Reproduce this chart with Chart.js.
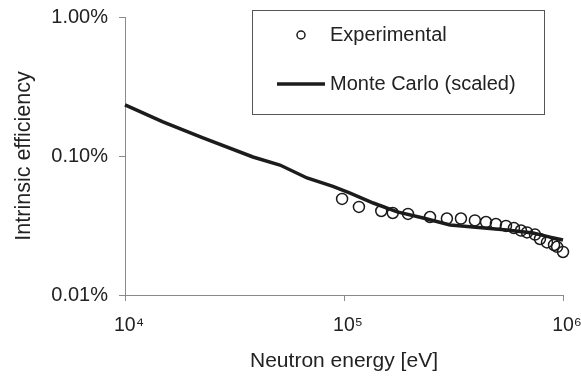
<!DOCTYPE html>
<html>
<head>
<meta charset="utf-8">
<script src="https://cdn.jsdelivr.net/npm/chart.js"></script>
<style>
  html, body { margin: 0; padding: 0; background: #fff; }
  #wrap { width: 581px; height: 378px; }
</style>
</head>
<body>
<div id="wrap"><canvas id="eff-chart"></canvas></div>
<script>
// measured points (energy in eV, efficiency in %)
const expEnergy = [9.8e4, 1.17e5, 1.48e5, 1.67e5, 1.96e5, 2.47e5, 2.95e5, 3.42e5, 3.96e5, 4.45e5,
                   4.94e5, 5.49e5, 5.97e5, 6.43e5, 6.85e5, 7.45e5, 7.85e5, 8.45e5, 9.1e5, 9.4e5, 1.0e6];
const expEff = [0.0491, 0.0430, 0.0402, 0.0389, 0.0383, 0.0364, 0.0355, 0.0355, 0.0344, 0.0335,
                0.0324, 0.0314, 0.0303, 0.0291, 0.0282, 0.0272, 0.0253, 0.0239, 0.0229, 0.0222, 0.0204];

// simulated curve, scaled
const mcEnergy = [1e4, 1.49e4, 2.27e4, 3.84e4, 5.1e4, 6.78e4, 8.9e4, 1.06e5, 1.36e5, 1.75e5,
                  2.3e5, 3.05e5, 3.88e5, 5.55e5, 7.3e5, 8.73e5, 1e6];
const mcEff = [0.233, 0.176, 0.135, 0.0984, 0.0861, 0.0695, 0.0605, 0.0542, 0.0459, 0.0396,
               0.0358, 0.0319, 0.0309, 0.0294, 0.0279, 0.0261, 0.0249];

const seriesNames = ["Experimental", "Monte Carlo (scaled)"];
const xTicks = [1e4, 1e5, 1e6];
const yTicks = [0.01, 0.1, 1];

const pairs = (xs, ys) => xs.map((x, i) => ({ x: x, y: ys[i] }));
const supDigits = { 4: "\u2074", 5: "\u2075", 6: "\u2076" };
const ink = "#222";
const axisGrey = "#8a8a8a";
const fontFamily = "'Liberation Sans', Arial, sans-serif";

// boxed legend in the upper right corner of the plot
const boxLegend = {
  id: "boxLegend",
  afterDraw(chart) {
    const ctx = chart.ctx;
    const ds = chart.data.datasets;
    ctx.save();
    ctx.strokeStyle = "#555";
    ctx.lineWidth = 1;
    ctx.strokeRect(252.5, 10.5, 292, 104);

    ctx.font = "20px " + fontFamily;
    ctx.fillStyle = ink;
    ctx.textBaseline = "middle";

    // marker entry
    ctx.beginPath();
    ctx.arc(301, 35, 4, 0, Math.PI * 2);
    ctx.strokeStyle = ds[0].borderColor;
    ctx.lineWidth = 1.5;
    ctx.stroke();
    ctx.fillText(ds[0].label, 330, 35);

    // line entry
    ctx.beginPath();
    ctx.moveTo(277, 84);
    ctx.lineTo(325, 84);
    ctx.strokeStyle = ds[1].borderColor;
    ctx.lineWidth = ds[1].borderWidth;
    ctx.stroke();
    ctx.fillText(ds[1].label, 330, 84);
    ctx.restore();
  }
};

new Chart(document.getElementById("eff-chart"), {
  type: "scatter",
  data: {
    datasets: [
      {
        label: seriesNames[0],
        data: pairs(expEnergy, expEff),
        showLine: false,
        clip: false,
        pointStyle: "circle",
        pointRadius: 5.5,
        pointBorderWidth: 1.5,
        borderColor: "#1a1a1a",
        backgroundColor: "rgba(0,0,0,0)"
      },
      {
        label: seriesNames[1],
        data: pairs(mcEnergy, mcEff),
        showLine: true,
        clip: false,
        pointRadius: 0,
        borderWidth: 3.5,
        borderColor: "#1c1c1c",
        tension: 0
      }
    ]
  },
  options: {
    responsive: true,
    maintainAspectRatio: false,
    devicePixelRatio: 1,
    animation: false,
    layout: { padding: { top: 17, right: 18, left: 0, bottom: 0 } },
    plugins: {
      legend: { display: false },
      tooltip: { enabled: false }
    },
    scales: {
      x: {
        type: "logarithmic",
        min: 1e4,
        max: 1e6,
        afterBuildTicks: s => { s.ticks = xTicks.map(v => ({ value: v })); },
        afterFit: s => { s.height = 83; s.paddingLeft = 0; s.paddingRight = 0; },
        grid: { drawOnChartArea: false, drawTicks: true, tickLength: 6, color: axisGrey },
        border: { color: axisGrey, width: 1 },
        ticks: {
          autoSkip: false,
          maxRotation: 0,
          padding: 13,
          labelOffset: 4,
          color: ink,
          font: { size: 19.5, family: fontFamily },
          callback: v => "10" + supDigits[Math.round(Math.log10(v))]
        },
        title: {
          display: true,
          text: "Neutron energy [eV]",
          color: ink,
          font: { size: 21, family: fontFamily },
          padding: { top: 0, bottom: 4 }
        }
      },
      y: {
        type: "logarithmic",
        min: 0.01,
        max: 1,
        afterBuildTicks: s => { s.ticks = yTicks.map(v => ({ value: v })); },
        afterFit: s => { s.width = 125; s.paddingTop = 0; s.paddingBottom = 0; },
        grid: { drawOnChartArea: false, drawTicks: true, tickLength: 6, color: axisGrey },
        border: { color: axisGrey, width: 1 },
        ticks: {
          autoSkip: false,
          padding: 11,
          color: ink,
          font: { size: 20, family: fontFamily },
          callback: v => v.toFixed(2) + "%"
        },
        title: {
          display: true,
          text: "Intrinsic efficiency",
          color: ink,
          font: { size: 21.5, family: fontFamily },
          padding: { top: 11, bottom: 0 }
        }
      }
    }
  },
  plugins: [boxLegend]
});
</script>
</body>
</html>
